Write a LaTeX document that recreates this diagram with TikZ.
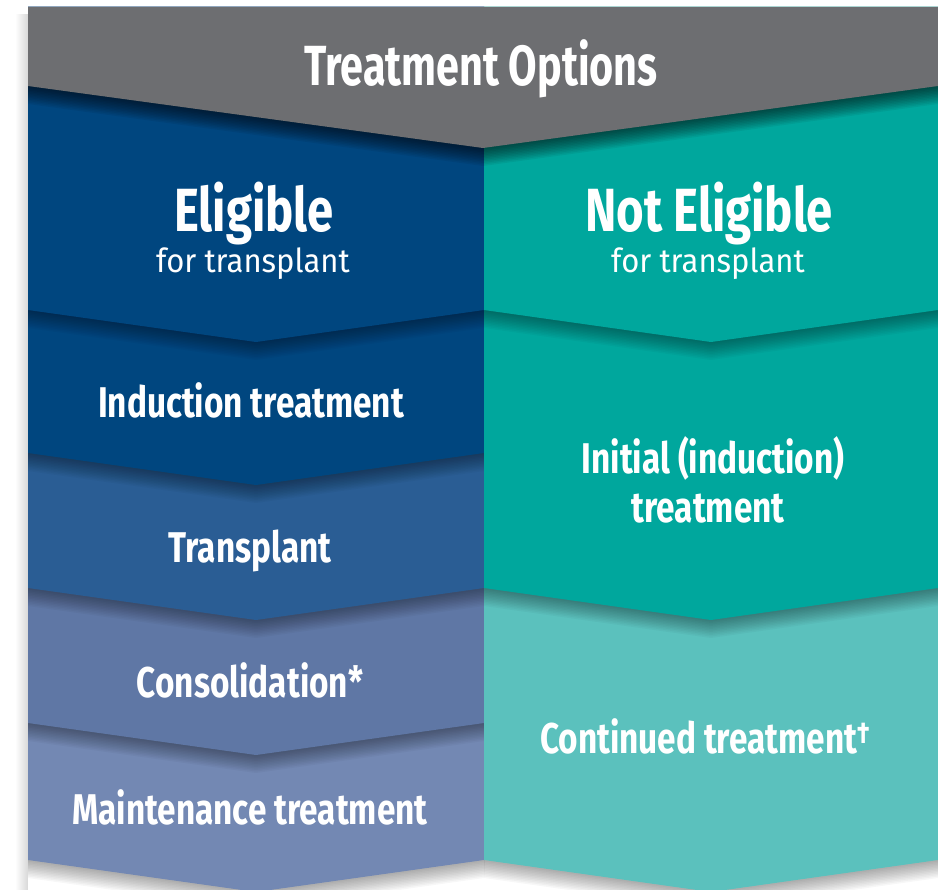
\documentclass[tikz,border=0pt]{standalone}
\usepackage{fontspec}
\setmainfont{Fira Sans}
\newfontfamily\titlenarrow[FakeStretch=0.73]{Fira Sans}
\newfontfamily\boldnarrow[FakeStretch=0.775]{Fira Sans}
\newfontfamily\plainnarrow[FakeStretch=0.94]{Fira Sans}

\definecolor{headgray}{HTML}{6D6E71}
\definecolor{navy}{HTML}{00467F}
\definecolor{midblue}{HTML}{2A5D94}
\definecolor{lavblue}{HTML}{5F77A5}
\definecolor{paleblue}{HTML}{7388B3}
\definecolor{teal}{HTML}{00A79D}
\definecolor{paleteal}{HTML}{5BC1BD}

\tikzset{
  steplabel/.style={text=white, inner sep=0pt, anchor=base,
    font=\boldnarrow\bfseries\fontsize{43}{46}\selectfont},
  headlabel/.style={steplabel, font=\boldnarrow\bfseries\fontsize{61}{64}\selectfont},
  sublabel/.style={steplabel, font=\plainnarrow\fontsize{33}{36}\selectfont}
}

\begin{document}
\begin{tikzpicture}[x=1pt, y=-1pt]
  \useasboundingbox (0,0) rectangle (938,890);

  % soft shadow along the left side
  \foreach \k in {1,...,12}
    \fill[black, opacity=0.012] (28-\k,14) rectangle (28,890);

  % left column, lowest step first
  \foreach \ybot/\col in {860/paleblue, 723/lavblue, 588/midblue, 453/navy, 310/navy}
  {
    \foreach \k [evaluate=\k as \s using 1.5*\k] in {1,...,12}
      \fill[black, opacity=0.03, shift={(0,\s)}]
        (28,7) -- (484,7) -- (484,\ybot) -- (256,\ybot+32) -- (28,\ybot) -- cycle;
    \fill[\col] (28,7) -- (484,7) -- (484,\ybot) -- (256,\ybot+32) -- (28,\ybot) -- cycle;
  }

  % right column
  \foreach \ybot/\col in {860/paleteal, 588/teal, 310/teal}
  {
    \foreach \k [evaluate=\k as \s using 1.5*\k] in {1,...,12}
      \fill[black, opacity=0.03, shift={(0,\s)}]
        (484,7) -- (938,7) -- (938,\ybot) -- (711,\ybot+32) -- (484,\ybot) -- cycle;
    \fill[\col] (484,7) -- (938,7) -- (938,\ybot) -- (711,\ybot+32) -- (484,\ybot) -- cycle;
  }

  % header
  \foreach \k [evaluate=\k as \s using 1.5*\k] in {1,...,12}
    \fill[black, opacity=0.06, shift={(0,\s)}]
      (28,7) -- (938,7) -- (938,86) -- (483,148) -- (28,86) -- cycle;
  \fill[headgray] (28,7) -- (938,7) -- (938,86) -- (483,148) -- (28,86) -- cycle;

  \node[steplabel, font=\titlenarrow\bfseries\fontsize{56.6}{60}\selectfont]
    (title) at (481,86) {Treatment Options};

  \node[headlabel] (elig)    at (254,232) {Eligible};
  \node[sublabel]  (eligsub) at (253,273) {for transplant};
  \node[headlabel] (notelig)    at (709,232) {Not Eligible};
  \node[sublabel]  (noteligsub) at (708,273) {for transplant};

  \node[steplabel] (induct)  at (251,418) {Induction treatment};
  \node[steplabel] (transp)  at (250,563) {Transplant};
  \node[steplabel] (consol)  at (250,697) {Consolidation*};
  \node[steplabel] (maint)   at (250,824) {Maintenance treatment};

  \node[steplabel] (initial)  at (713,474) {Initial (induction)};
  \node[steplabel] (initialb) at (708,523) {treatment};
  \node[steplabel] (contin)   at (705,753) {Continued treatment\textsuperscript{†}};
\end{tikzpicture}
\end{document}
